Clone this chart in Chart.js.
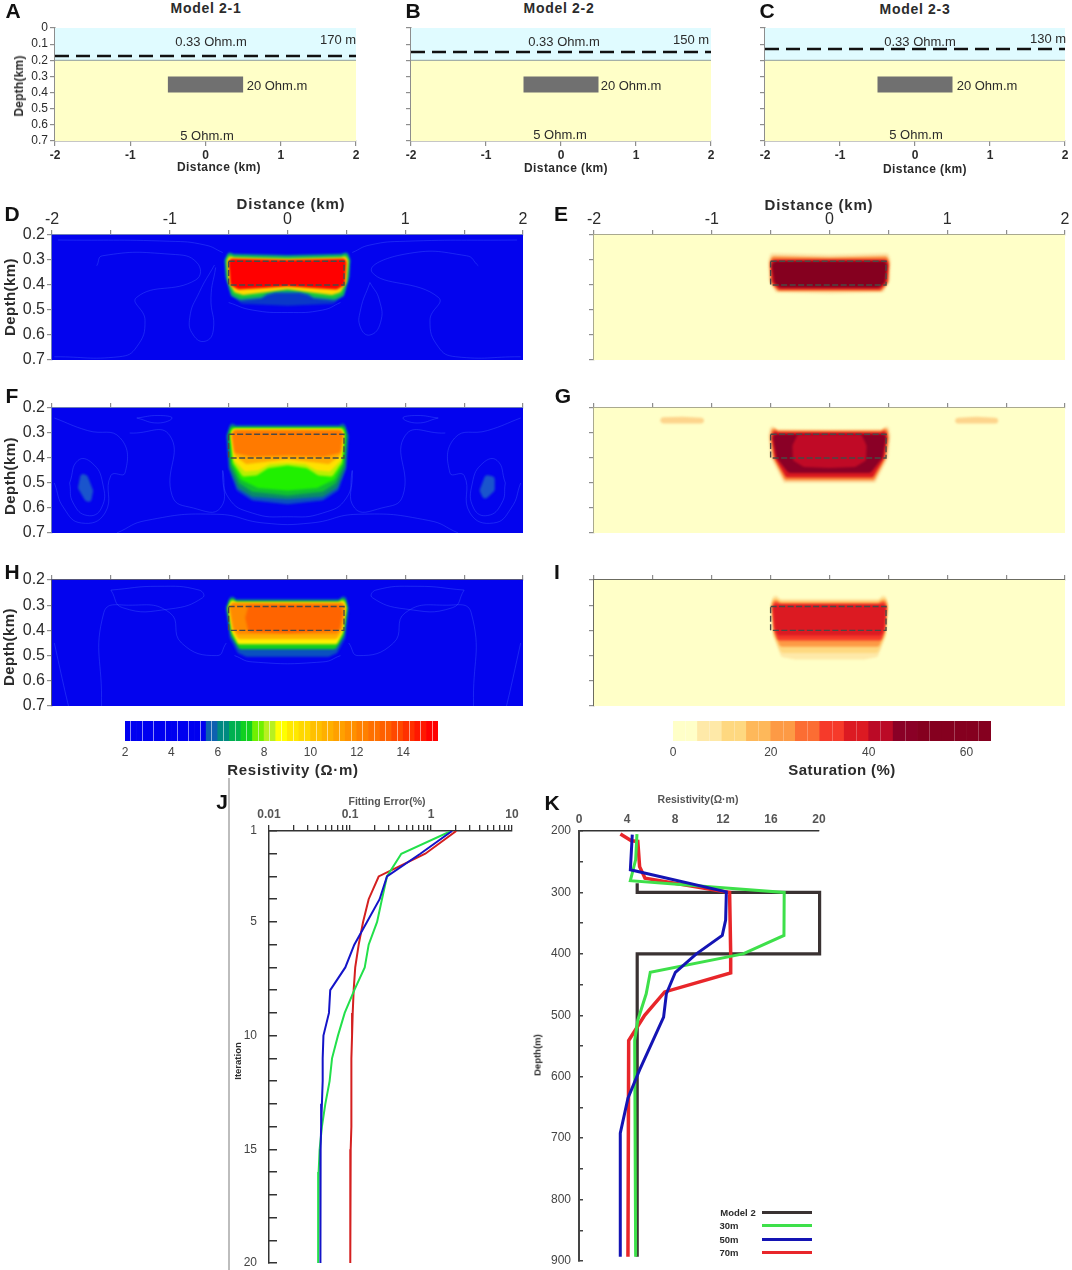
<!DOCTYPE html>
<html>
<head>
<meta charset="utf-8">
<script src="https://cdn.jsdelivr.net/npm/chart.js@4"></script>
<style>
body{margin:0;background:#fff;font-family:"Liberation Sans",Arial,sans-serif;}
#page{position:relative;width:1072px;height:1270px;overflow:hidden;}
canvas{position:absolute;filter:blur(0.35px);}
.txt{position:absolute;white-space:nowrap;transform:translate(-50%,-50%);color:#2b2b2b;}
.rot{transform:translate(-50%,-50%) rotate(-90deg);}
.mark{position:absolute;}
</style>
</head>
<body>
<div id="page"></div>
<script>
//----------------------------------------------
// MODEL PANELS A-C
//----------------------------------------------
const frame=[[-2,0],[2,0],[2,0.7],[-2,0.7]];
const seaLayer=[[-2,0],[2,0],[2,0.2],[-2,0.2]];
const modelBody=[[-0.5,0.3],[0.5,0.3],[0.5,0.4],[-0.5,0.4]];
const seaDepths=[0.173,0.149,0.13];
const lineEnds=[-2,2];

//----------------------------------------------
// SECTIONS D-I, traced outlines (km, depth km)
//----------------------------------------------
const sectionFrame=[[-2,0.2],[2,0.2],[2,0.7],[-2,0.7]];
const boxOutlineX=[-0.5,0.48,0.48,-0.5,-0.5];
const boxOutlineDepth=[0.305,0.305,0.4,0.4,0.305];

const dHalo=[[-0.5,0.4],[-0.47,0.44],[-0.39,0.475],[0,0.483],[0.39,0.475],[0.47,0.44],[0.5,0.4]];
const dTeal=[[-0.5,0.267],[-0.46,0.275],[0,0.28],[0.46,0.275],[0.51,0.267],[0.535,0.3],[0.525,0.37],[0.48,0.445],[0.4,0.463],[0.22,0.455],[0.17,0.44],[0.1,0.433],[-0.1,0.433],[-0.17,0.44],[-0.22,0.455],[-0.4,0.463],[-0.48,0.445],[-0.525,0.37],[-0.535,0.3]];
const dGreen=[[-0.5,0.272],[-0.46,0.282],[0,0.287],[0.46,0.282],[0.5,0.272],[0.525,0.3],[0.515,0.37],[0.47,0.44],[0.4,0.455],[0.22,0.447],[0.17,0.432],[0.1,0.425],[-0.1,0.425],[-0.17,0.432],[-0.22,0.447],[-0.4,0.455],[-0.47,0.44],[-0.515,0.37],[-0.525,0.3]];
const dYellow=[[-0.5,0.283],[-0.45,0.29],[0,0.295],[0.45,0.29],[0.5,0.283],[0.515,0.305],[0.5,0.39],[0.45,0.43],[0.38,0.44],[0.2,0.43],[0,0.417],[-0.2,0.43],[-0.38,0.44],[-0.45,0.43],[-0.5,0.39],[-0.515,0.305]];
const dRed=[[-0.49,0.295],[0,0.3],[0.49,0.295],[0.5,0.31],[0.485,0.4],[0.42,0.418],[0.2,0.412],[0,0.405],[-0.2,0.412],[-0.42,0.418],[-0.485,0.4],[-0.5,0.31]];
const dBands=[dHalo,dTeal,dGreen,dYellow,dRed];
const dColors=['#0a38c8','#0b7fa0','#14cc3a','#ffd800','#ff0000'];
const dLines=[
  [[-1.62,0.323],[-1.57,0.283],[-0.99,0.277],[-0.77,0.31],[-0.78,0.38],[-1.28,0.449],[-1.21,0.541],[-1.28,0.647],[-1.43,0.687],[-1.98,0.687]],
  [[1.62,0.323],[1.52,0.283],[0.99,0.277],[0.72,0.35],[1.28,0.449],[1.21,0.541],[1.28,0.647],[1.43,0.687],[1.98,0.687]],
  [[-0.62,0.32],[-0.75,0.43],[-0.83,0.53],[-0.8,0.6],[-0.7,0.625],[-0.63,0.58],[-0.65,0.45],[-0.61,0.33]],
  [[0.7,0.39],[0.62,0.5],[0.62,0.57],[0.7,0.6],[0.79,0.55],[0.78,0.46],[0.7,0.39]],
  [[-0.5,0.47],[-0.3,0.5],[0,0.51],[0.3,0.5],[0.45,0.47]],
  [[-1.95,0.22],[-1,0.225],[-0.7,0.24],[-0.55,0.27]],
  [[1.95,0.22],[1,0.225],[0.7,0.24],[0.55,0.27]]
];

const eHalo=[[-0.5,0.272],[0,0.278],[0.5,0.272],[0.52,0.3],[0.515,0.38],[0.46,0.43],[0,0.435],[-0.46,0.43],[-0.515,0.38],[-0.52,0.3]];
const eOrange=[[-0.49,0.285],[0,0.29],[0.49,0.285],[0.51,0.31],[0.5,0.39],[0.44,0.425],[-0.44,0.425],[-0.5,0.39],[-0.51,0.31]];
const eRed=[[-0.49,0.298],[0.49,0.298],[0.5,0.32],[0.49,0.39],[0.43,0.418],[-0.43,0.418],[-0.49,0.39],[-0.5,0.32]];
const eDark=[[-0.47,0.305],[0.47,0.305],[0.49,0.32],[0.47,0.39],[0.42,0.41],[-0.42,0.41],[-0.47,0.39],[-0.49,0.32]];
const eBands=[eHalo,eOrange,eRed,eDark];
const eColors=['#fde3a6','#fb8a3c','#d9181f','#85001f'];

const fHalo=[[-0.48,0.255],[-0.44,0.268],[0.44,0.268],[0.48,0.255],[0.52,0.31],[0.5,0.44],[0.43,0.53],[0.3,0.57],[0,0.585],[-0.3,0.57],[-0.43,0.53],[-0.5,0.44],[-0.52,0.31]];
const fTeal=[[-0.48,0.262],[-0.44,0.275],[0.44,0.275],[0.48,0.262],[0.51,0.31],[0.49,0.44],[0.42,0.52],[0.3,0.555],[0,0.565],[-0.3,0.555],[-0.42,0.52],[-0.49,0.44],[-0.51,0.31]];
const fGreen=[[-0.475,0.27],[-0.44,0.282],[0.44,0.282],[0.475,0.27],[0.5,0.31],[0.48,0.43],[0.41,0.5],[0.3,0.535],[0,0.55],[-0.3,0.535],[-0.41,0.5],[-0.48,0.43],[-0.5,0.31]];
const fBright=[[-0.48,0.278],[0.48,0.278],[0.49,0.31],[0.47,0.42],[0.4,0.485],[0.25,0.52],[0,0.53],[-0.25,0.52],[-0.4,0.485],[-0.47,0.42],[-0.49,0.31]];
const fLime=[[-0.47,0.283],[0.47,0.283],[0.48,0.31],[0.46,0.42],[0.38,0.475],[0.26,0.47],[0.16,0.44],[0,0.43],[-0.16,0.44],[-0.26,0.47],[-0.38,0.475],[-0.46,0.42],[-0.48,0.31]];
const fYellow=[[-0.465,0.285],[0.465,0.285],[0.478,0.31],[0.455,0.41],[0.36,0.455],[0.25,0.45],[0.15,0.425],[0,0.42],[-0.15,0.425],[-0.25,0.45],[-0.36,0.455],[-0.455,0.41],[-0.478,0.31]];
const fAmber=[[-0.46,0.287],[0.46,0.287],[0.475,0.31],[0.45,0.39],[0.35,0.425],[0,0.405],[-0.35,0.425],[-0.45,0.39],[-0.475,0.31]];
const fOrange=[[-0.455,0.289],[0.455,0.289],[0.47,0.31],[0.45,0.38],[0.3,0.395],[0,0.39],[-0.3,0.395],[-0.45,0.38],[-0.47,0.31]];
const fSpotLeft=[[-1.755,0.46],[-1.7,0.47],[-1.65,0.53],[-1.67,0.58],[-1.72,0.57],[-1.78,0.52]];
const fSpotRight=[[1.68,0.467],[1.76,0.475],[1.76,0.53],[1.67,0.57],[1.63,0.53]];
const fBands=[fSpotLeft,fSpotRight,fHalo,fTeal,fGreen,fBright,fLime,fYellow,fAmber,fOrange];
const fColors=['#1a55cc','#1a55cc','#0a50c0','#0a8a6a','#10c030','#20f000','#b8f000','#ffe000','#ffaa00','#ff7a00'];
const fLines=[
  [[-1.98,0.24],[-1.7,0.29],[-1.42,0.32],[-1.38,0.46],[-1.5,0.47],[-1.55,0.62],[-1.75,0.66],[-1.9,0.6],[-1.98,0.5]],
  [[-1.85,0.5],[-1.78,0.41],[-1.66,0.42],[-1.57,0.5],[-1.58,0.6],[-1.7,0.63],[-1.82,0.58],[-1.85,0.5]],
  [[1.98,0.24],[1.7,0.29],[1.42,0.32],[1.38,0.46],[1.5,0.47],[1.55,0.62],[1.75,0.66],[1.9,0.6],[1.98,0.5]],
  [[1.85,0.5],[1.78,0.41],[1.66,0.42],[1.57,0.5],[1.58,0.6],[1.7,0.63],[1.82,0.58],[1.85,0.5]],
  [[-1.34,0.3],[-1,0.31],[-0.98,0.55],[-0.8,0.6],[-0.57,0.6],[-0.55,0.45]],
  [[1.34,0.3],[1,0.31],[0.98,0.55],[0.8,0.6],[0.57,0.6],[0.55,0.45]],
  [[-0.55,0.45],[-0.5,0.56],[-0.3,0.62],[0,0.635],[0.3,0.62],[0.5,0.56],[0.55,0.45]],
  [[-1.45,0.7],[-1.2,0.65],[-0.6,0.625],[-0.2,0.66],[0.2,0.66],[0.6,0.625],[1.2,0.65],[1.45,0.7]],
  [[-1.28,0.24],[-1.1,0.23],[-0.98,0.24],[-1.1,0.26],[-1.28,0.24]],
  [[1.28,0.24],[1.1,0.23],[0.98,0.24],[1.1,0.26],[1.28,0.24]]
];

const gSpotLeft=[[-1.47,0.238],[-1.25,0.235],[-1.03,0.24],[-1.08,0.262],[-1.42,0.262]];
const gSpotRight=[[1.04,0.24],[1.25,0.235],[1.46,0.24],[1.42,0.262],[1.08,0.262]];
const gHalo=[[-0.5,0.265],[-0.44,0.285],[0,0.287],[0.44,0.285],[0.5,0.265],[0.52,0.31],[0.5,0.4],[0.39,0.5],[-0.39,0.5],[-0.5,0.4],[-0.52,0.31]];
const gOrange=[[-0.49,0.272],[-0.44,0.29],[0.44,0.29],[0.49,0.272],[0.505,0.32],[0.48,0.4],[0.38,0.49],[-0.38,0.49],[-0.48,0.4],[-0.505,0.32]];
const gRed=[[-0.48,0.28],[-0.44,0.297],[0.44,0.297],[0.48,0.28],[0.49,0.32],[0.465,0.4],[0.37,0.478],[-0.37,0.478],[-0.465,0.4],[-0.49,0.32]];
const gDark=[[-0.47,0.305],[0.47,0.305],[0.48,0.32],[0.45,0.4],[0.35,0.46],[-0.35,0.46],[-0.45,0.4],[-0.48,0.32]];
const gInner=[[-0.27,0.305],[0.27,0.305],[0.315,0.35],[0.31,0.41],[0.22,0.436],[0,0.44],[-0.22,0.436],[-0.31,0.41],[-0.315,0.35]];
const gBands=[gSpotLeft,gSpotRight,gHalo,gOrange,gRed,gDark,gInner];
const gColors=['#fdd48c','#fdd48c','#fde3a6','#fb8a3c','#d9181f','#8a0026','#c00a26'];

const hHalo=[[-0.48,0.255],[-0.44,0.275],[0.44,0.275],[0.49,0.255],[0.52,0.31],[0.49,0.43],[0.42,0.49],[0.35,0.505],[-0.35,0.505],[-0.42,0.49],[-0.49,0.43],[-0.525,0.31]];
const hGreen=[[-0.48,0.262],[-0.44,0.282],[0.44,0.282],[0.485,0.262],[0.51,0.31],[0.48,0.42],[0.41,0.475],[-0.41,0.475],[-0.48,0.42],[-0.515,0.31]];
const hYellow=[[-0.475,0.272],[-0.44,0.288],[0.44,0.288],[0.48,0.272],[0.5,0.31],[0.47,0.41],[0.42,0.455],[-0.42,0.455],[-0.47,0.41],[-0.505,0.31]];
const hAmber=[[-0.47,0.28],[-0.44,0.295],[0.44,0.295],[0.475,0.28],[0.49,0.31],[0.465,0.4],[0.42,0.435],[-0.42,0.435],[-0.465,0.4],[-0.495,0.31]];
const hOrange=[[-0.47,0.29],[0.47,0.29],[0.485,0.31],[0.46,0.39],[0.42,0.415],[-0.42,0.415],[-0.46,0.39],[-0.49,0.31]];
const hDeep=[[-0.33,0.3],[0.44,0.3],[0.47,0.33],[0.44,0.4],[0,0.41],[-0.33,0.405],[-0.36,0.35]];
const hBands=[hHalo,hGreen,hYellow,hAmber,hOrange,hDeep];
const hColors=['#0a50c0','#10d020','#fff000','#ffb000','#ff8a00','#ff6400'];
const hLines=[
  [[-1.5,0.24],[-1.1,0.225],[-0.75,0.24],[-0.72,0.27],[-1,0.315],[-1.4,0.31],[-1.5,0.24]],
  [[1.5,0.24],[1.1,0.225],[0.75,0.24],[0.72,0.27],[1,0.315],[1.4,0.31],[1.5,0.24]],
  [[-1.58,0.7],[-1.56,0.33],[-1.35,0.3],[-1,0.33],[-0.9,0.45],[-0.6,0.5],[-0.52,0.45]],
  [[1.58,0.7],[1.56,0.33],[1.35,0.3],[1,0.33],[0.9,0.45],[0.6,0.5],[0.52,0.45]],
  [[-1.98,0.45],[-1.9,0.62],[-1.86,0.7]],
  [[1.98,0.45],[1.9,0.62],[1.86,0.7]],
  [[-0.45,0.5],[-0.3,0.525],[0.3,0.525],[0.45,0.5]]
];

const iPale=[[-0.47,0.25],[-0.42,0.275],[0.42,0.275],[0.47,0.25],[0.5,0.3],[0.48,0.42],[0.41,0.505],[0.3,0.515],[-0.3,0.515],[-0.41,0.505],[-0.48,0.42],[-0.5,0.3]];
const iLight=[[-0.47,0.26],[-0.42,0.282],[0.42,0.282],[0.47,0.26],[0.495,0.3],[0.475,0.42],[0.41,0.49],[-0.41,0.49],[-0.475,0.42],[-0.495,0.3]];
const iOrange=[[-0.47,0.27],[-0.42,0.288],[0.42,0.288],[0.47,0.27],[0.49,0.3],[0.47,0.41],[0.42,0.465],[-0.42,0.465],[-0.47,0.41],[-0.49,0.3]];
const iRed=[[-0.47,0.28],[-0.42,0.295],[0.42,0.295],[0.47,0.28],[0.485,0.31],[0.47,0.4],[0.44,0.44],[-0.44,0.44],[-0.47,0.4],[-0.485,0.31]];
const iCore=[[-0.47,0.298],[0.47,0.298],[0.48,0.31],[0.465,0.39],[0.44,0.42],[-0.44,0.42],[-0.465,0.39],[-0.48,0.31]];
const iBands=[iPale,iLight,iOrange,iRed,iCore];
const iColors=['#fee9a8','#fed880','#fd9a45','#f63a2a','#dc1a22'];

//----------------------------------------------
// COLOUR BARS
//----------------------------------------------
const resistivityEdges=[2,2.5,3,3.5,4,4.5,5,5.5,6,6.5,7,7.5,8,8.5,9,9.5,10,10.5,11,11.5,12,12.5,13,13.5,14,14.5,15,15.5];
const resistivityTicks=[2,4,6,8,10,12,14];
const resistivityBarColors=['#0000f0','#0000f0','#0000f0','#0000f0','#0000f0','#0000f0','#0000f0','#0e60b0','#008a80','#00b050','#10d020','#70f000','#b8f020','#ffff00','#ffe800','#ffd800','#ffc000','#ffb000','#ffa000','#ff9000','#ff8000','#ff7000','#ff6000','#ff4800','#ff3000','#ff1800','#ff0000'];
const saturationEdges=[0,5,10,15,20,25,30,35,40,45,50,55,60,65];
const saturationTicks=[0,20,40,60];
const saturationBarColors=['#ffffc8','#fee9a8','#fed880','#feb85a','#fd9a45','#fc6d33','#f63a2a','#dc1a22','#bb0a26','#8a0026','#85001f','#85001f','#85001f'];

//----------------------------------------------
// J. FITTING ERROR
//----------------------------------------------
const iterations=[1,2,3,4,5,6,7,8,9,10,11,12,13,14,15,16,17,18,19,20];
const errorLabels=[1,5,10,15,20];
const logTicks=[0.01,0.02,0.03,0.04,0.05,0.06,0.07,0.08,0.09,0.1,0.2,0.3,0.4,0.5,0.6,0.7,0.8,0.9,1,2,3,4,5,6,7,8,9,10];
const logLabels=[0.01,0.1,1,10];
const error30=[1.77,0.43,0.286,0.248,0.216,0.17,0.152,0.113,0.086,0.071,0.06,0.056,0.0496,0.045,0.0422,0.041,0.0407,0.0405,0.0403,0.0403];
const error50=[1.82,0.738,0.286,0.232,0.162,0.113,0.0875,0.057,0.055,0.047,0.046,0.046,0.045,0.044,0.0434,0.0434,0.0432,0.0431,0.043,0.043];
const error70=[2.05,0.85,0.226,0.17,0.145,0.128,0.116,0.111,0.108,0.106,0.104,0.105,0.104,0.103,0.102,0.102,0.101,0.101,0.1,0.1];

//----------------------------------------------
// K. RESISTIVITY PROFILE
//----------------------------------------------
const modelRes=[4.85,4.85,20.05,20.05,4.85,4.85];
const modelDepth=[285,300,300,400,400,893];
const res30=[4.83,4.72,4.28,17.1,17.08,13.67,5.94,5.6,4.9,4.64,4.72];
const depth30=[205,247,281,300,370,400,430,465,508,541,893];
const res50=[4.44,4.28,12.28,12.22,11.94,9.78,8.03,7.28,7.05,5.05,4.08,3.44,3.44];
const depth50=[206,263,299,345,370,400,430,465,503,589,635,692,893];
const res70=[3.45,4.36,4.9,5.05,5.5,12.55,12.64,12.64,7.14,5.47,4.14,4.08];
const depth70=[205,216,217,258,277,300,399,431,462,500,541,893];
const legendNames=['Model 2','30m','50m','70m'];
const legendColors=['#3a3232','#3ee04a','#1414b4','#e8262a'];

//----------------------------------------------
// helpers
//----------------------------------------------
Chart.defaults.font.family='"Liberation Sans", Arial, sans-serif';
Chart.defaults.animation=false;
Chart.defaults.events=[];
Chart.defaults.plugins.legend.display=false;
Chart.defaults.plugins.tooltip.enabled=false;

const page=document.getElementById('page');

function put(text,x,y,size,opts){
  opts=opts||{};
  const d=document.createElement('div');
  d.className='txt'+(opts.rot?' rot':'');
  d.textContent=text;
  d.style.left=x+'px';
  d.style.top=y+'px';
  d.style.fontSize=size+'px';
  if(opts.bold) d.style.fontWeight='bold';
  if(opts.color) d.style.color=opts.color;
  if(opts.space) d.style.letterSpacing=opts.space+'px';
  page.appendChild(d);
}

function rule(x,y,w,h,color){
  const d=document.createElement('div');
  d.className='mark';
  d.style.cssText+=`left:${x}px;top:${y}px;width:${w}px;height:${h}px;background:${color}`;
  page.appendChild(d);
}

const toPts=a=>a.map(p=>({x:p[0],y:p[1]}));
const zip=(xs,ys)=>xs.map((x,i)=>({x:x,y:ys[i]}));

// draws closed outlines kept in the datasets, positions come from the chart scales
const bandPlugin={
  id:'bands',
  beforeDatasetsDraw(chart){
    const ctx=chart.ctx, a=chart.chartArea;
    ctx.save();
    ctx.beginPath();
    ctx.rect(a.left,a.top,a.width,a.height);
    ctx.clip();
    chart.data.datasets.forEach((ds,i)=>{
      if(!ds.band) return;
      const p=chart.getDatasetMeta(i).data, n=p.length;
      ctx.filter=ds.blur?`blur(${ds.blur}px)`:'none';
      ctx.fillStyle=ds.band;
      ctx.beginPath();
      ctx.moveTo((p[n-1].x+p[0].x)/2,(p[n-1].y+p[0].y)/2);
      for(let k=0;k<n;k++){
        const q=p[(k+1)%n];
        ctx.arcTo(p[k].x,p[k].y,q.x,q.y,ds.round||0);
      }
      ctx.closePath();
      ctx.fill();
    });
    ctx.restore();
  }
};

function band(outline,color,round,blur){
  return {data:toPts(outline),band:color,round:round,blur:blur,showLine:false,pointRadius:0};
}
function line(pts,color,width,extra){
  return Object.assign({data:pts,borderColor:color,borderWidth:width,showLine:true,pointRadius:0,fill:false},extra||{});
}

function fitTo(size){
  return function(s){
    if(s.isHorizontal()) s.height=size; else s.width=size;
    s.paddingLeft=s.paddingRight=s.paddingTop=s.paddingBottom=0;
  };
}

// box is the plot rectangle in page pixels, m the room kept round it for the axes
function place(box,m,cfg){
  const c=document.createElement('canvas');
  c.width=box.w+m.l+m.r;
  c.height=box.h+m.t+m.b;
  c.style.left=(box.l-m.l)+'px';
  c.style.top=(box.t-m.t)+'px';
  c.style.width=c.width+'px';
  c.style.height=c.height+'px';
  page.appendChild(c);
  cfg.options=Object.assign({responsive:false,devicePixelRatio:1},cfg.options);
  return new Chart(c,cfg);
}

function axis(pos,min,max,step,size,o){
  const a={
    type:'linear',position:pos,min:min,max:max,
    border:{color:o.border||'#8d8d8d',width:o.borderWidth||1.5},
    grid:{drawOnChartArea:false,color:o.tick||'#8d8d8d',tickLength:o.tickLength===undefined?5:o.tickLength,lineWidth:o.tickWidth||1.2},
    ticks:{stepSize:step,autoSkip:false,maxRotation:0,display:o.labels!==false,color:o.color||'#2b2b2b',
      font:{size:o.font||12,weight:o.weight||'normal'},padding:o.pad===undefined?2:o.pad,callback:o.fmt},
    afterFit:fitTo(size)
  };
  if(o.reverse) a.reverse=true;
  return a;
}

const depthFmt=v=>v===0?'0':(+v).toFixed(1);
const wholeFmt=v=>Number.isInteger(+(+v).toFixed(3))?String(Math.round(v)):'';

//----------------------------------------------
// 1. MODEL PANELS
//----------------------------------------------
function modelPanel(left,width,seaDepth,showDepth){
  const box={l:left,t:28,w:width,h:113};
  place(box,{l:40,t:8,r:14,b:20},{
    type:'scatter',
    data:{datasets:[
      band(frame,'#ffffc8',0,0),
      band(seaLayer,'#e0fbff',0,0),
      band(modelBody,'#707070',0,0),
      line(zip(lineEnds,[0.2,0.2]),'#a4b0a8',1.2),
      line(zip(lineEnds,[seaDepth,seaDepth]),'#111',2.4,{borderDash:[14,7]})
    ]},
    options:{
      layout:{padding:{top:8,right:14,left:0,bottom:0}},
      scales:{
        x:axis('bottom',-2,2,1,20,{font:12,weight:'bold',fmt:v=>String(v)}),
        y:axis('left',0,0.7,0.1,40,{reverse:true,font:12,fmt:depthFmt,labels:showDepth})
      }
    },
    plugins:[bandPlugin]
  });
}
modelPanel(55,301,seaDepths[0],true);
modelPanel(411,300,seaDepths[1],false);
modelPanel(765,300,seaDepths[2],false);

put('Model 2-1',206,8,14,{bold:true,space:0.7});
put('Model 2-2',559,8,14,{bold:true,space:0.7});
put('Model 2-3',915,9,14,{bold:true,space:0.7});
put('Distance (km)',219,167,12,{bold:true,space:0.4});
put('Distance (km)',566,168,12,{bold:true,space:0.4});
put('Distance (km)',925,169,12,{bold:true,space:0.4});
put('Depth(km)',19,86,12,{bold:true,rot:true,space:0.2});

put('0.33 Ohm.m',211,41,13); put('170 m',338,39,13); put('20 Ohm.m',277,85,13); put('5 Ohm.m',207,135,13);
put('0.33 Ohm.m',564,41,13); put('150 m',691,39,13); put('20 Ohm.m',631,85,13); put('5 Ohm.m',560,134,13);
put('0.33 Ohm.m',920,41,13); put('130 m',1048,38,13); put('20 Ohm.m',987,85,13); put('5 Ohm.m',916,134,13);

//----------------------------------------------
// 2. RESISTIVITY AND SATURATION SECTIONS
//----------------------------------------------
function section(left,top,height,base,bands,colors,lines,o){
  const sets=[band(sectionFrame,base,0,0)];
  bands.forEach((b,i)=>sets.push(band(b,colors[i],3,o.blur)));
  (lines||[]).forEach(l=>sets.push(line(toPts(l),'rgba(70,100,255,0.45)',0.8,{tension:0.5})));
  sets.push(line(zip(boxOutlineX,boxOutlineDepth),'#4a4a46',1.4,{borderDash:[6,2.5]}));
  place({l:left,t:top,w:471,h:height},{l:46,t:26,r:8,b:8},{
    type:'scatter',
    data:{datasets:sets},
    options:{
      layout:{padding:{right:8,bottom:8}},
      scales:{
        x:axis('top',-2,2,0.5,26,{font:16,fmt:wholeFmt,labels:o.xLabels,border:o.edge,tick:'#8d8d8d',pad:1}),
        y:axis('left',0.2,0.7,0.1,46,{reverse:true,font:16,fmt:depthFmt,labels:o.yLabels,border:o.edge})
      }
    },
    plugins:[bandPlugin]
  });
}
const BLUE='#0303ee', CREAM='#ffffc8';
section(52,235,125,BLUE,dBands,dColors,dLines,{xLabels:true,yLabels:true,blur:1,edge:'#6f7fb8'});
section(594,235,125,CREAM,eBands,eColors,null,{xLabels:true,yLabels:false,blur:1,edge:'#a9a98f'});
section(52,408,125,BLUE,fBands,fColors,fLines,{xLabels:false,yLabels:true,blur:1,edge:'#6f7fb8'});
section(594,408,125,CREAM,gBands,gColors,null,{xLabels:false,yLabels:false,blur:0.8,edge:'#a9a98f'});
section(52,580,126,BLUE,hBands,hColors,hLines,{xLabels:false,yLabels:true,blur:1,edge:'#55557a'});
section(594,580,126,CREAM,iBands,iColors,null,{xLabels:false,yLabels:false,blur:1.2,edge:'#6b6b60'});

put('Distance (km)',291,203,15,{bold:true,space:0.8});
put('Distance (km)',819,204,15,{bold:true,space:0.8});
put('Depth(km)',9,297,15,{bold:true,rot:true,space:0.4});
put('Depth(km)',9,476,15,{bold:true,rot:true,space:0.4});
put('Depth(km)',8,647,15,{bold:true,rot:true,space:0.4});

//----------------------------------------------
// 3. COLOUR BARS
//----------------------------------------------
function colourBar(box,edges,colors,labels,lineColor){
  const mids=colors.map((c,i)=>(edges[i]+edges[i+1])/2);
  place(box,{l:10,t:0,r:10,b:20},{
    type:'bar',
    data:{datasets:[{
      data:mids.map(m=>({x:m,y:1})),
      backgroundColor:colors,
      barPercentage:1,categoryPercentage:1,borderWidth:0
    }]},
    options:{
      layout:{padding:{left:10,right:10}},
      scales:{
        x:{type:'linear',position:'bottom',offset:false,min:edges[0],max:edges[edges.length-1],
          border:{display:false},
          grid:{color:lineColor,lineWidth:1,z:1,drawTicks:false},
          afterBuildTicks(s){s.ticks=edges.map(v=>({value:v}));},
          ticks:{autoSkip:false,maxRotation:0,color:'#444',font:{size:12},padding:4,
            callback:v=>labels.includes(v)?String(v):''},
          afterFit:fitTo(20)},
        y:{display:false,min:0,max:1}
      }
    }
  });
}
colourBar({l:125,t:721,w:313,h:20},resistivityEdges,resistivityBarColors,resistivityTicks,'rgba(255,255,255,0.55)');
colourBar({l:673,t:721,w:318,h:20},saturationEdges,saturationBarColors,saturationTicks,'rgba(255,255,255,0.25)');
put('Resistivity (Ω·m)',293,769,15,{bold:true,space:0.7});
put('Saturation (%)',842,769,15,{bold:true,space:0.4});

//----------------------------------------------
// 4. J. FITTING ERROR
//----------------------------------------------
rule(228,778,2,492,'#bdbdbd');
place({l:269,t:831,w:243,h:432},{l:36,t:26,r:16,b:7},{
  type:'scatter',
  data:{datasets:[
    line(zip(error50,iterations),'#1414c8',2,{order:1}),
    line(zip(error30,iterations),'#22e04a',2,{order:2}),
    line(zip(error70,iterations),'#d42020',2,{order:3})
  ]},
  options:{
    layout:{padding:{right:16,bottom:7}},
    scales:{
      x:{type:'logarithmic',position:'top',min:0.01,max:10,
        border:{color:'#333',width:1.5},
        grid:{drawOnChartArea:false,color:'#333',tickLength:6,lineWidth:1.3},
        afterBuildTicks(s){s.ticks=logTicks.map(v=>({value:v}));},
        ticks:{autoSkip:false,maxRotation:0,color:'#555',font:{size:12,weight:'bold'},padding:3,
          callback:v=>logLabels.includes(v)?String(v):''},
        afterFit:fitTo(26)},
      y:axis('left',1,20,1,36,{reverse:true,border:'#333',tick:'#333',tickLength:-8,tickWidth:1.5,borderWidth:1.5,
        font:12,color:'#444',pad:20,fmt:v=>errorLabels.includes(v)?String(v):''})
    }
  }
});
put('Fitting Error(%)',387,801,10.5,{bold:true,color:'#555'});
put('Iteration',237,1061,9.5,{bold:true,rot:true});

//----------------------------------------------
// 5. K. RESISTIVITY PROFILE
//----------------------------------------------
place({l:579,t:831,w:240,h:430},{l:36,t:26,r:12,b:8},{
  type:'scatter',
  data:{datasets:[
    line(zip(res50,depth50),legendColors[2],3,{order:1}),
    line(zip(res30,depth30),legendColors[1],3,{order:2}),
    line(zip(res70,depth70),legendColors[3],3.5,{order:3}),
    line(zip(modelRes,modelDepth),legendColors[0],3.2,{order:4,borderJoinStyle:'miter',clip:false})
  ]},
  options:{
    layout:{padding:{right:12,bottom:8}},
    scales:{
      x:axis('top',0,20,4,26,{border:'#333',tick:'#333',tickLength:0,font:12,color:'#555',weight:'bold',pad:4,fmt:v=>String(v)}),
      y:axis('left',200,900,50,36,{reverse:true,border:'#444',tick:'#444',tickLength:-4,tickWidth:1.5,borderWidth:2,
        font:12,color:'#444',pad:12,fmt:v=>v%100===0?String(v):''})
    }
  }
});
put('Resistivity(Ω·m)',698,799,10.5,{bold:true,color:'#555'});
put('Depth(m)',537,1055,9.5,{bold:true,rot:true});

const legendRows=[1212,1225,1239,1252];
legendNames.forEach((name,i)=>{
  put(name,i?729:738,legendRows[i],9.5,{bold:true});
  rule(762,legendRows[i]-1,50,2.5,legendColors[i]);
});

//----------------------------------------------
// 6. PANEL LETTERS
//----------------------------------------------
const letters=['A','B','C','D','E','F','G','H','I','J','K'];
const letterX=[13,413,767,12,561,12,563,12,557,222,552];
const letterY=[11,11,11,214,214,396,396,572,572,802,803];
letters.forEach((l,i)=>put(l,letterX[i],letterY[i],21,{bold:true,color:'#111'}));
</script>
</body>
</html>
